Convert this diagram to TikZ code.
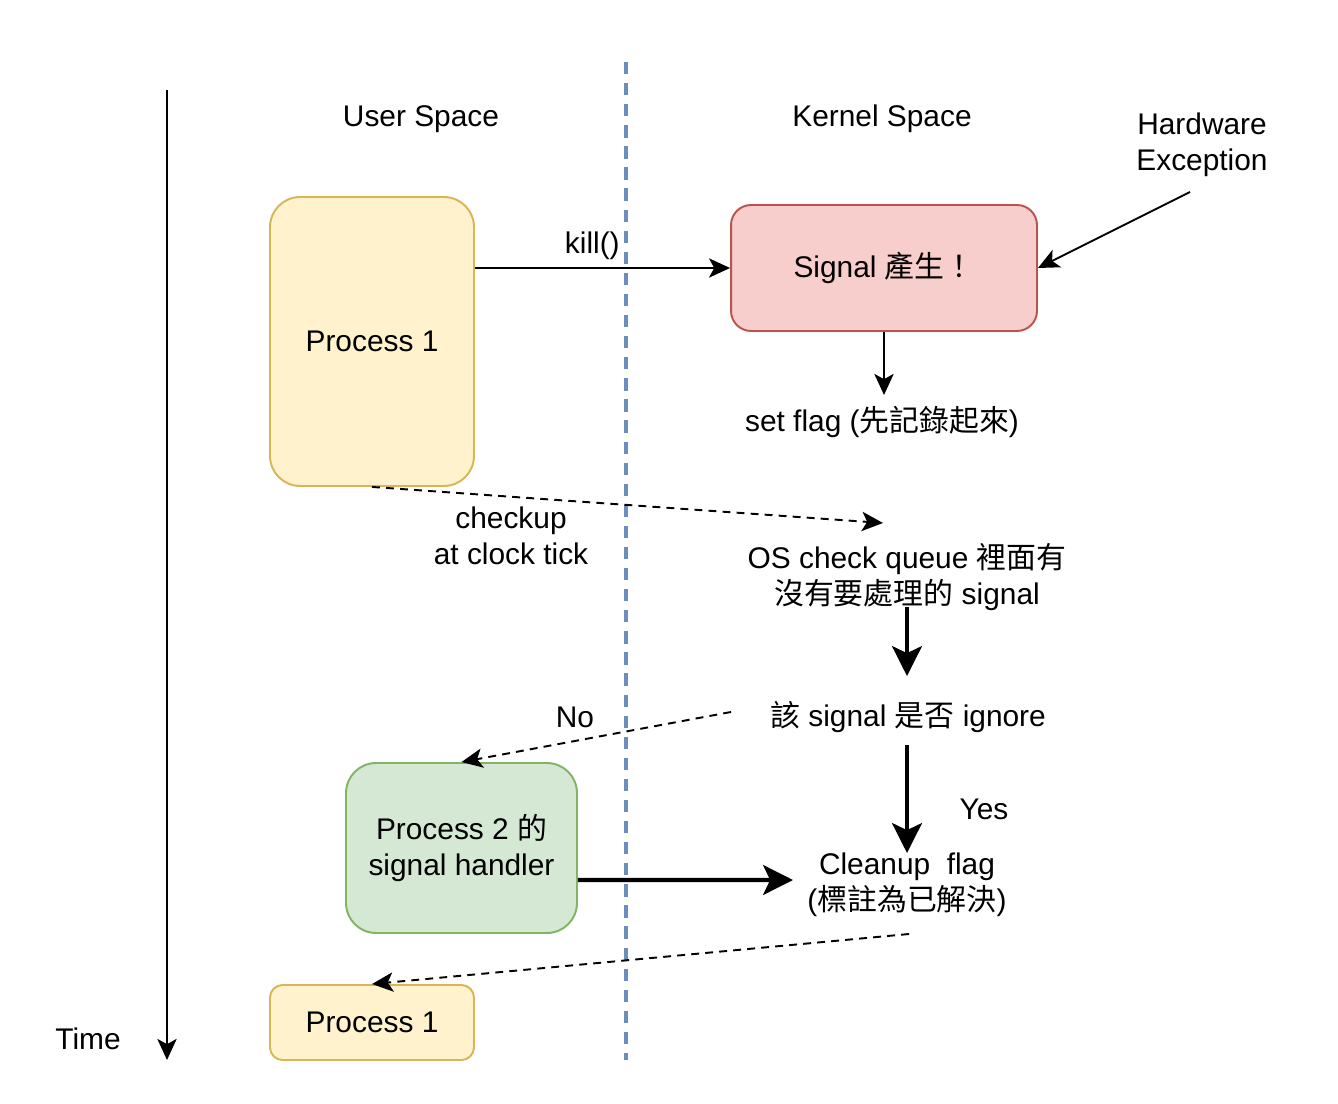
\documentclass[tikz,border=0pt]{standalone}
\usepackage{fontspec}
\setmainfont{Liberation Sans}
\newfontfamily\cjk{Noto Sans CJK TC}
\newcommand{\zh}[1]{{\cjk #1}}
\usetikzlibrary{arrows.meta}
\definecolor{yelfill}{HTML}{FFF2CC}\definecolor{yeldraw}{HTML}{D6B656}
\definecolor{redfill}{HTML}{F8CECC}\definecolor{reddraw}{HTML}{B85450}
\definecolor{grnfill}{HTML}{D5E8D4}\definecolor{grndraw}{HTML}{82B366}
\definecolor{divblue}{HTML}{6C8EBF}
\tikzset{
  every node/.style={font=\fontsize{17}{20.4}\selectfont, align=center},
  procbox/.style={draw, line width=1.1pt, rounded corners=0.6cm, inner sep=0pt},
  arr/.style={line width=1.1pt, -{Stealth[length=12pt,width=11pt,inset=3pt]}},
  bigarr/.style={line width=2.3pt, -{Stealth[length=17pt,width=17pt,inset=4pt]}},
  dasharr/.style={arr, dash pattern=on 4.5pt off 3.5pt},
}
\begin{document}
\begin{tikzpicture}[x=0.02cm, y=-0.02cm]
    \useasboundingbox (0,0) rectangle (1338,1104);
    %% time axis and divider
    \draw[arr] (167,90) -- (167,1060);
    \node (time) at (88,1039) {Time};
    \draw[divblue, line width=2.3pt, dash pattern=on 7pt off 5pt] (626,62) -- (626,1060);
    \node (user) at (421,119) {User Space};
    \node (kern) at (882,119) {Kernel Space};
    \node (hw) at (1202,145) {Hardware\\Exception};
    %% boxes
    \node[procbox, fill=yelfill, draw=yeldraw, minimum width=4.08cm, minimum height=5.78cm] (proc1) at (372,341.5) {Process 1};
    \node[procbox, fill=redfill, draw=reddraw, rounded corners=0.4cm, minimum width=6.12cm, minimum height=2.52cm] (sig) at (884,268) {Signal \zh{產生！}};
    \node[procbox, fill=grnfill, draw=grndraw, minimum width=4.62cm, minimum height=3.4cm] (proc2) at (461.5,848) {Process 2 \zh{的}\\signal handler};
    \node[procbox, fill=yelfill, draw=yeldraw, rounded corners=0.25cm, minimum width=4.08cm, minimum height=1.5cm] (proc1b) at (372,1022.5) {Process 1};
    %% kernel texts
    \node (setflag) at (882,422) {set flag (\zh{先記錄起來})};
    \node (oscheck) at (907,577) {OS check queue \zh{裡面有}\\\zh{沒有要處理的} signal};
    \node (ignore) at (908,717) {\zh{該} signal \zh{是否} ignore};
    \node (cleanup) at (907,885) {Cleanup\ \ flag\\(\zh{標註為已解決})};
    %% end points
    \coordinate (hwtail) at (1190,192);
    \coordinate (flagtip) at (884,395);
    \coordinate (chk) at (883,523);
    \coordinate (notail) at (731,712);
    \coordinate (cltip) at (793,880);
    \coordinate (cltail) at (909,934);
    %% arrows
    \draw[arr] (proc1.east |- sig.west) -- (sig.west) node[pos=0.46, anchor=south, yshift=1pt] {kill()};
    \draw[arr] (hwtail) -- (sig.east);
    \draw[arr] (sig.south) -- (flagtip);
    \draw[dasharr] (proc1.south) -- (chk);
    \node (tick) at (511,536) {checkup\\at clock tick};
    \draw[bigarr] (907,607) -- (907,676);
    \draw[dasharr] (notail) -- (proc2.north);
    \node (no) at (575,717) {No};
    \draw[bigarr] (907,745) -- (907,853);
    \node (yes) at (984,809) {Yes};
    \draw[bigarr] ([yshift=-0.64cm]proc2.east) -- (cltip);
    \draw[dasharr] (cltail) -- (proc1b.north);
\end{tikzpicture}
\end{document}
